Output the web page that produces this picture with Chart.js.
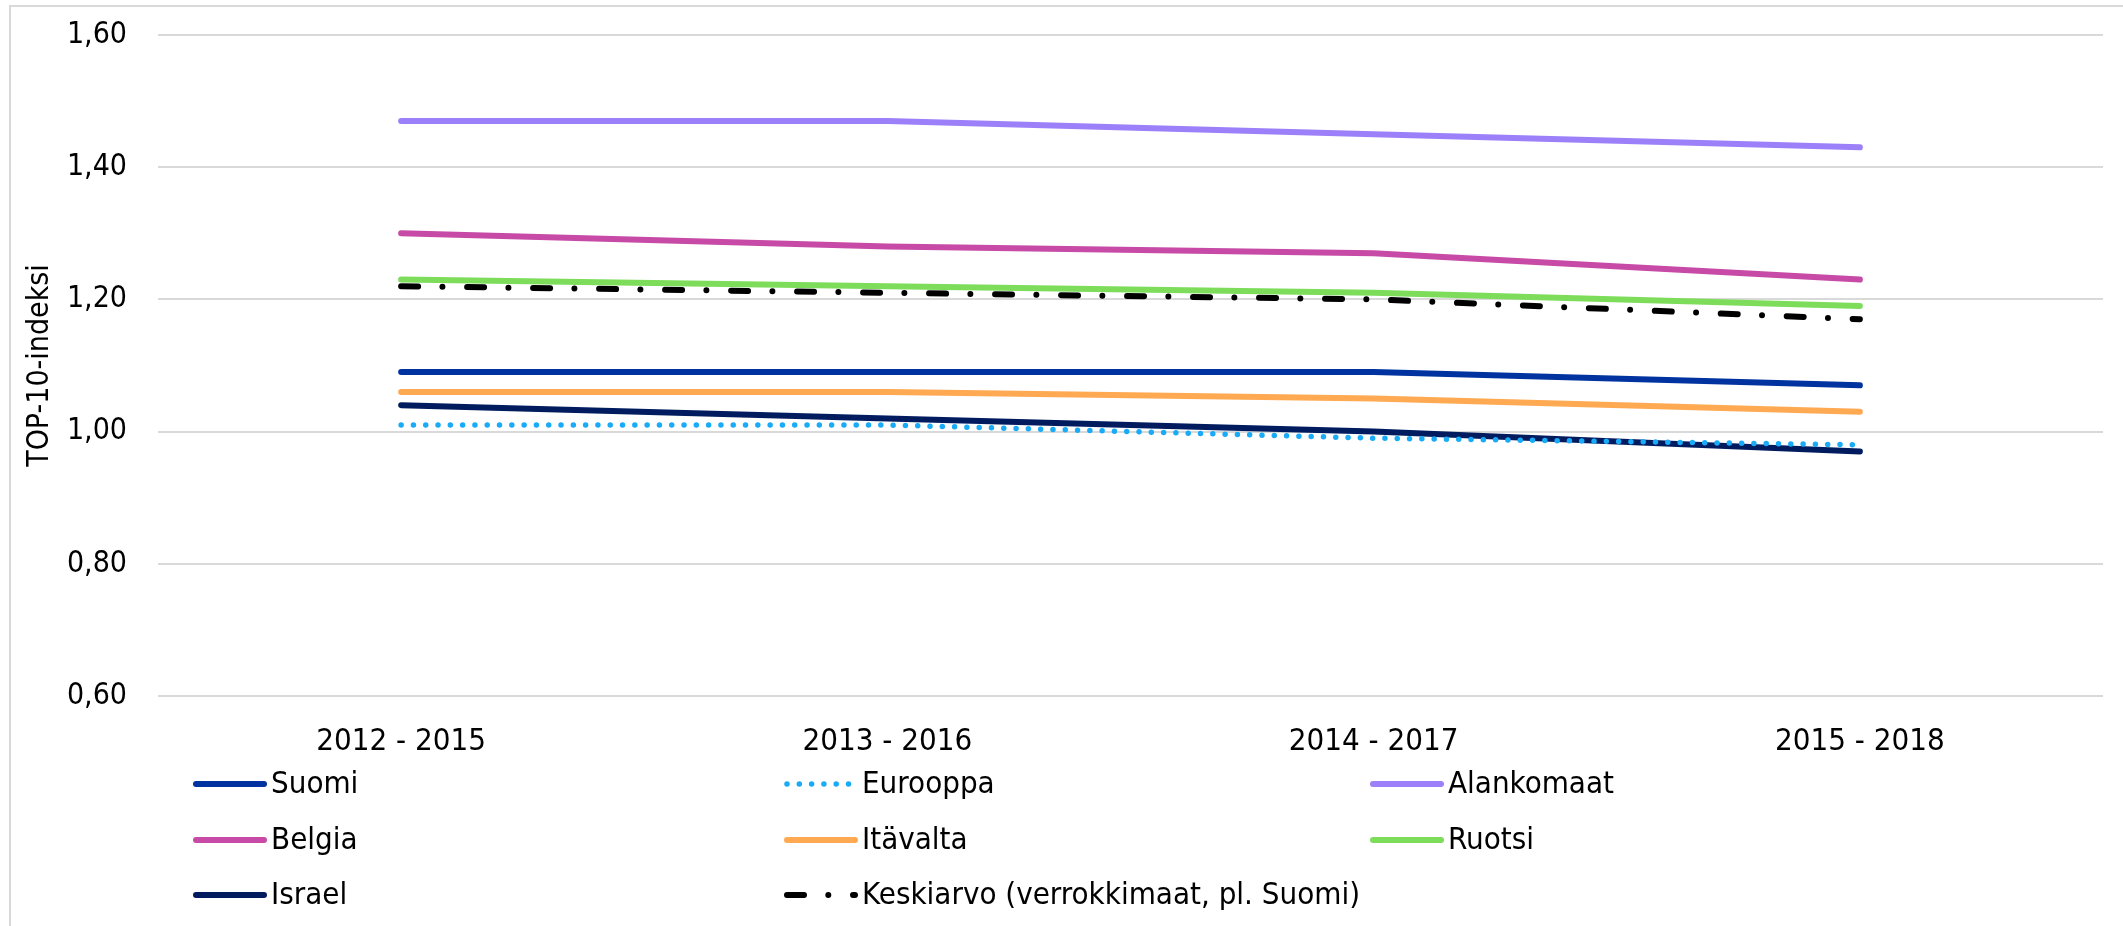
<!DOCTYPE html>
<html>
<head>
<meta charset="utf-8">
<script src="https://cdn.jsdelivr.net/npm/chart.js@4/dist/chart.umd.min.js"></script>
<style>
  html, body { margin: 0; padding: 0; background: #ffffff; }
  #wrap { position: relative; width: 2123px; height: 926px; }
</style>
</head>
<body>
<div id="wrap"><canvas id="c" width="2123" height="926"></canvas></div>
<script>
const categories = ["2012 - 2015", "2013 - 2016", "2014 - 2017", "2015 - 2018"];
const yTicks = [0.6, 0.8, 1.0, 1.2, 1.4, 1.6];

const suomi      = [1.09, 1.09, 1.09, 1.07];
const eurooppa   = [1.01, 1.01, 0.99, 0.98];
const alankomaat = [1.47, 1.47, 1.45, 1.43];
const belgia     = [1.30, 1.28, 1.27, 1.23];
const itavalta   = [1.06, 1.06, 1.05, 1.03];
const ruotsi     = [1.23, 1.22, 1.21, 1.19];
const israel     = [1.04, 1.02, 1.00, 0.97];
const keskiarvo  = [1.22, 1.21, 1.20, 1.17];

const seriesNames = ["Suomi", "Eurooppa", "Alankomaat", "Belgia", "Itävalta", "Ruotsi", "Israel", "Keskiarvo (verrokkimaat, pl. Suomi)"];
const seriesValues = [suomi, eurooppa, alankomaat, belgia, itavalta, ruotsi, israel, keskiarvo];
const seriesColors = ["#0033a0", "#19aaf8", "#9b80fa", "#c64aa6", "#ffa952", "#7ddd5b", "#001b5e", "#000000"];
const seriesDash = [[], [0, 12.3], [], [], [], [], [], [17, 24.3, 0, 24.7]];
const seriesWidth = [6, 5.5, 6, 6, 6, 6, 6, 6];

const FONT = "'DejaVu Sans Condensed', 'DejaVu Sans', sans-serif";

const datasets = seriesNames.map((name, i) => ({
  label: name,
  data: seriesValues[i],
  borderColor: seriesColors[i],
  backgroundColor: seriesColors[i],
  borderWidth: seriesWidth[i],
  borderDash: seriesDash[i],
  borderCapStyle: 'round',
  borderJoinStyle: 'round',
  pointRadius: 0,
  pointHoverRadius: 0,
  tension: 0,
  fill: false
}));

const frame = {
  id: 'frame',
  beforeDraw(chart) {
    const ctx = chart.ctx;
    ctx.save();
    ctx.fillStyle = '#ffffff';
    ctx.fillRect(0, 0, chart.width, chart.height);
    ctx.strokeStyle = '#d9d9d9';
    ctx.lineWidth = 2;
    ctx.strokeRect(10, 6, 2300, 1100);
    ctx.restore();
  }
};

const gridLegend = {
  id: 'gridLegend',
  afterDraw(chart, args, opts) {
    const ctx = chart.ctx;
    ctx.save();
    chart.data.datasets.forEach((ds, i) => {
      const x = opts.cols[i % 3];
      const y = opts.rows[Math.floor(i / 3)];
      ctx.beginPath();
      ctx.strokeStyle = ds.borderColor;
      ctx.lineWidth = ds.borderWidth;
      ctx.lineCap = 'round';
      ctx.setLineDash(ds.borderDash || []);
      ctx.moveTo(x + 3, y);
      ctx.lineTo(x + opts.lineLen, y);
      ctx.stroke();
      ctx.setLineDash([]);
      ctx.fillStyle = '#000000';
      ctx.font = opts.fontSize + "px " + FONT;
      ctx.textBaseline = 'middle';
      ctx.textAlign = 'left';
      ctx.fillText(ds.label, x + opts.textGap, y + 1);
    });
    ctx.restore();
  }
};

new Chart(document.getElementById('c'), {
  type: 'line',
  data: { labels: categories, datasets },
  plugins: [frame, gridLegend],
  options: {
    responsive: false,
    animation: false,
    devicePixelRatio: 1,
    layout: { padding: { top: 35, right: 20, left: 0, bottom: 0 } },
    plugins: {
      legend: { display: false },
      tooltip: { enabled: false },
      gridLegend: { cols: [193, 784, 1370], rows: [784, 840, 895], lineLen: 71, textGap: 78, fontSize: 31 }
    },
    scales: {
      x: {
        offset: true,
        grid: { display: false, drawTicks: false },
        border: { display: false },
        ticks: { color: '#000000', font: { family: FONT, size: 31 }, padding: 27, maxRotation: 0 },
        afterFit(scale) { scale.height = 230; scale.paddingLeft = 0; scale.paddingRight = 0; }
      },
      y: {
        min: 0.6,
        max: 1.6,
        afterBuildTicks(scale) { scale.ticks = yTicks.map(v => ({ value: v })); },
        grid: { color: '#d9d9d9', lineWidth: 2, drawTicks: false },
        border: { display: false },
        ticks: {
          color: '#000000',
          font: { family: FONT, size: 30 },
          padding: 31,
          callback: (v) => Number(v).toFixed(2).replace('.', ',')
        },
        title: {
          display: true,
          text: 'TOP-10-indeksi',
          color: '#000000',
          font: { family: FONT, size: 30 },
          padding: { top: 22, bottom: 0 }
        },
        afterFit(scale) { scale.width = 158; scale.paddingTop = 0; scale.paddingBottom = 0; }
      }
    }
  }
});
</script>
</body>
</html>
